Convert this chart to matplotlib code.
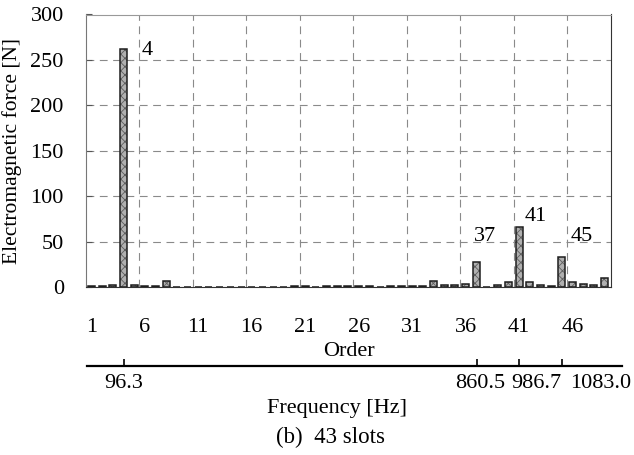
import matplotlib
matplotlib.use('Agg')
import matplotlib.pyplot as plt
import numpy as np

plt.rcParams['font.family'] = ['Liberation Serif', 'DejaVu Serif']
plt.rcParams['font.size'] = 16
plt.rcParams['hatch.linewidth'] = 0.6

# order 1..49, force in N
orders = np.arange(1, 50)
force = [1, 1, 2, 262, 2, 1, 1, 7, 0, 0,
         0, 0, 0, 0, 0, 0, 0, 0, 0, 1,
         1.2, 0, 1, 1, 1.2, 1, 1, 0, 1, 1,
         1, 1.2, 6.5, 2.5, 2.5, 3.5, 27.5, 0, 2, 5,
         66, 5, 2, 1, 32.5, 5.5, 3.5, 2.5, 10]

peak_labels = ['4', '37', '41', '45']
order_ticks = [1, 6, 11, 16, 21, 26, 31, 36, 41, 46]
y_ticks = [0, 50, 100, 150, 200, 250, 300]

freq_tick_orders = [4, 37, 41, 45]
freq_labels = ['96.3', '860.5', '986.7', '1083.0']

W, H = 634, 455
fig = plt.figure(figsize=(W / 100, H / 100), dpi=100)

ax = fig.add_axes([86 / W, 1 - 287 / H, (611 - 86) / W, (287 - 14.5) / H])
# hatched grey fill, then a dark outline on top
ax.bar(orders, force, width=0.65, color='#b0b0b0', edgecolor='#5e5e5e',
       hatch='xxxx', linewidth=0, zorder=3)
ax.bar(orders, force, width=0.65, fill=False, edgecolor='#1e1e1e',
       linewidth=1.1, zorder=4)

ax.set_xlim(0.5, 49.6)
ax.set_ylim(0, 300)
ax.set_yticks(y_ticks)
ax.set_xticks(order_ticks)
ax.set_xticks(np.arange(5.5, 46, 5), minor=True)
ax.tick_params(axis='x', which='both', length=0, pad=22)
ax.tick_params(axis='y', direction='in', length=4, pad=16, color='#555555')
ax.grid(which='minor', axis='x', color='#8a8a8a', linestyle=(0, (7, 5)), linewidth=0.8)
ax.grid(which='major', axis='y', color='#8a8a8a', linestyle=(0, (7, 5)), linewidth=0.8)
ax.grid(which='major', axis='x', visible=False)
ax.set_axisbelow(True)
for s, c in zip(['left', 'top', 'right', 'bottom'], ['#777777', '#999999', '#333333', '#333333']):
    ax.spines[s].set_color(c)
ax.set_ylabel('Electromagnetic force [N]', labelpad=6, fontsize=15.5)
ax.set_xlabel('Order', labelpad=4)

label_xy = [(6.2, 260), (37.8, 56), (42.6, 78), (46.9, 56)]
for (x, y), lab in zip(label_xy, peak_labels):
    ax.text(x, y, lab, ha='center', va='center')

# frequency axis drawn as a second axis below
fax = fig.add_axes([87 / W, 1 - 366 / H, (622 - 87) / W, 0.0001])
fax.set_xlim(0.53, 50.6)
fax.set_ylim(0, 1)
for s in ['left', 'top', 'right']:
    fax.spines[s].set_visible(False)
fax.spines['bottom'].set_linewidth(1.6)
fax.set_yticks([])
fax.xaxis.remove_overlapping_locs = False
fax.set_xticks(freq_tick_orders)
fax.set_xticklabels([])
fax.tick_params(axis='x', which='major', direction='in', length=5, width=1.2)
label_pos = [4, 37.3, 42.6, 48.6]
fax.set_xticks(label_pos, minor=True)
fax.set_xticklabels(freq_labels, minor=True)
fax.tick_params(axis='x', which='minor', length=0, pad=6)

fig.text(337 / W, 1 - 409 / H, 'Frequency [Hz]', ha='center', va='center')
fig.text(331 / W, 1 - 437 / H, '(b)  43 slots', ha='center', va='center', fontsize=16.5)

fig.savefig('out.png', dpi=100)
